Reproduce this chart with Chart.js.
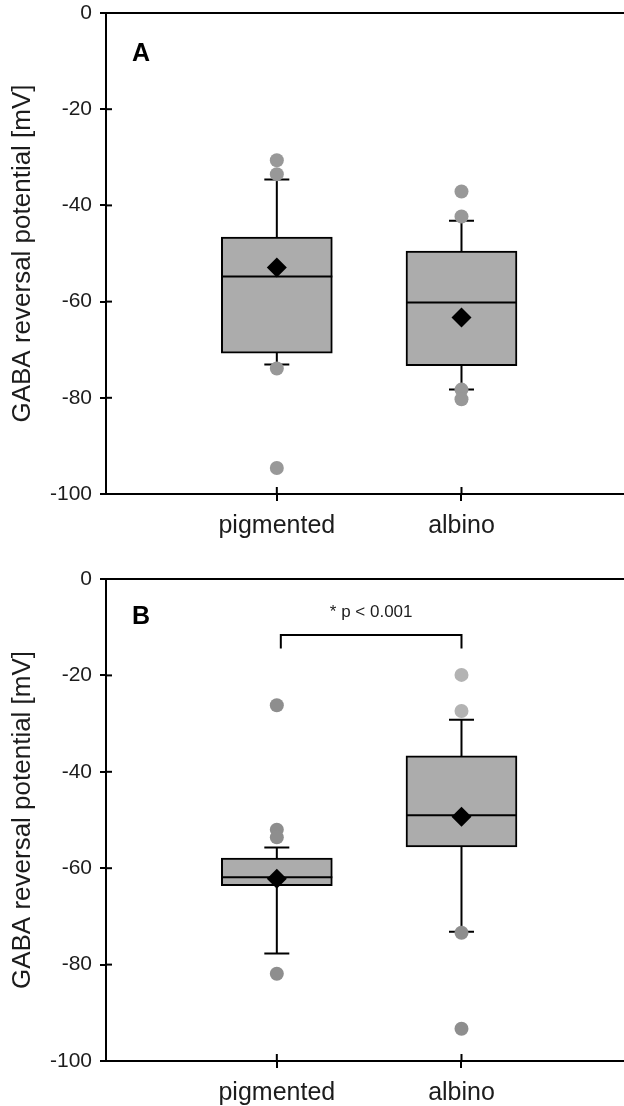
<!DOCTYPE html>
<html>
<head>
<meta charset="utf-8">
<script src="https://cdn.jsdelivr.net/npm/chart.js@4.4.0/dist/chart.umd.min.js"></script>
<style>
  body { margin: 0; background: #fff; }
  canvas { display: block; }
</style>
</head>
<body>
<canvas id="chartA" width="624" height="560"></canvas>
<canvas id="chartB" width="624" height="546"></canvas>
<script>
// categories + y ticks
const categories = ['pigmented', 'albino'];
const yTicks = [0, -20, -40, -60, -80, -100];
const yTitle = 'GABA reversal potential [mV]';

// Panel A
const aQ1 = [-70.7, -73.3];
const aMedian = [-54.8, -60.2];
const aQ3 = [-46.6, -49.5];
const aWhiskerLow = [-73.1, -78.3];
const aWhiskerHigh = [-34.6, -43.2];
const aMean = [-52.9, -63.3];
const aOutliersPigmented = [-30.6, -33.5, -73.9, -94.6];
const aOutliersAlbino = [-37.1, -42.3, -78.3, -80.3];

// Panel B
const bQ1 = [-63.6, -55.6];
const bMedian = [-61.9, -49.0];
const bQ3 = [-57.9, -36.7];
const bWhiskerLow = [-77.7, -73.2];
const bWhiskerHigh = [-55.7, -29.2];
const bMean = [-62.2, -49.3];
const bOutliersPigmented = [-26.2, -52.0, -53.6, -81.9];
const bOutliersAlbino = [-19.9, -27.4, -73.4, -93.3];
const bSignificance = '* p < 0.001';
const bBracketTop = -11.6;
const bBracketFoot = -14.4;

const FONT = "'Liberation Sans', Arial, sans-serif";
const INK = '#1c1c1c';

function panelPlugin(p) {
  return {
    id: 'panel' + p.letter,
    beforeDatasetsDraw(chart) {
      const { ctx, chartArea, scales: { x, y } } = chart;
      ctx.save();
      ctx.strokeStyle = '#000';
      ctx.lineWidth = 2;
      // top frame line
      ctx.beginPath();
      ctx.moveTo(chartArea.left, chartArea.top);
      ctx.lineTo(chart.width, chartArea.top);
      ctx.stroke();
      // inner halves of the tick marks
      yTicks.forEach(v => {
        const py = y.getPixelForValue(v);
        ctx.beginPath();
        ctx.moveTo(chartArea.left, py);
        ctx.lineTo(chartArea.left + 6, py);
        ctx.stroke();
      });
      categories.forEach((c, i) => {
        const px = x.getPixelForValue(i + 1);
        ctx.beginPath();
        ctx.moveTo(px, chartArea.bottom);
        ctx.lineTo(px, chartArea.bottom - 7);
        ctx.stroke();
      });
      // whiskers
      categories.forEach((c, i) => {
        const px = x.getPixelForValue(i + 1);
        [[p.q3[i], p.high[i]], [p.q1[i], p.low[i]]].forEach(([from, to]) => {
          const y0 = y.getPixelForValue(from);
          const y1 = y.getPixelForValue(to);
          ctx.beginPath();
          ctx.moveTo(px, y0);
          ctx.lineTo(px, y1);
          ctx.moveTo(px - 12.5, y1);
          ctx.lineTo(px + 12.5, y1);
          ctx.stroke();
        });
      });
      ctx.restore();
    },
    afterDatasetDraw(chart, args) {
      if (args.index !== 0) return;
      const { ctx, scales: { y } } = chart;
      ctx.save();
      ctx.strokeStyle = '#000';
      ctx.lineWidth = 2;
      args.meta.data.forEach((bar, i) => {
        const { x, width } = bar.getProps(['x', 'width'], true);
        const py = y.getPixelForValue(p.median[i]);
        ctx.beginPath();
        ctx.moveTo(x - width / 2, py);
        ctx.lineTo(x + width / 2, py);
        ctx.stroke();
      });
      ctx.restore();
    },
    afterDraw(chart) {
      const { ctx, chartArea, scales: { x, y } } = chart;
      ctx.save();
      ctx.fillStyle = '#000';
      ctx.font = 'bold 25px ' + FONT;
      ctx.textAlign = 'center';
      ctx.textBaseline = 'middle';
      ctx.fillText(p.letter, chartArea.left + 35, chartArea.top + p.letterDy);
      if (p.sig) {
        const x1 = x.getPixelForValue(1) + 4;
        const x2 = x.getPixelForValue(2);
        const yt = y.getPixelForValue(p.bracketTop);
        const yf = y.getPixelForValue(p.bracketFoot);
        ctx.strokeStyle = '#000';
        ctx.lineWidth = 2;
        ctx.beginPath();
        ctx.moveTo(x1, yf);
        ctx.lineTo(x1, yt);
        ctx.lineTo(x2, yt);
        ctx.lineTo(x2, yf);
        ctx.stroke();
        ctx.font = '17px ' + FONT;
        ctx.fillStyle = INK;
        ctx.fillText(p.sig, (x1 + x2) / 2, yt - 23);
      }
      ctx.restore();
    }
  };
}

function makeChart(id, p) {
  const boxData = categories.map((c, i) => ({ x: i + 1, y: [p.q1[i], p.q3[i]] }));
  const meanData = categories.map((c, i) => ({ x: i + 1, y: p.mean[i] }));
  const outlierData = [
    ...p.outPig.map(v => ({ x: 1, y: v })),
    ...p.outAlb.map(v => ({ x: 2, y: v }))
  ];
  return new Chart(document.getElementById(id), {
    type: 'scatter',
    data: {
      datasets: [
        {
          type: 'bar',
          data: boxData,
          backgroundColor: '#acacac',
          borderColor: '#000',
          borderWidth: 2,
          borderSkipped: false,
          barThickness: 111,
          order: 2
        },
        {
          data: outlierData,
          pointStyle: 'circle',
          pointRadius: 7,
          pointBackgroundColor: p.outColors,
          pointBorderWidth: 0,
          order: 1
        },
        {
          data: meanData,
          pointStyle: 'rectRot',
          pointRadius: 10,
          pointBackgroundColor: '#000',
          pointBorderWidth: 0,
          order: 0
        }
      ]
    },
    options: {
      responsive: false,
      animation: false,
      layout: { autoPadding: false, padding: { top: p.top, left: 0, right: 0, bottom: 0 } },
      plugins: { legend: { display: false }, tooltip: { enabled: false } },
      scales: {
        x: {
          type: 'linear',
          min: 0.075,
          max: 2.88,
          offset: false,
          afterBuildTicks: axis => { axis.ticks = categories.map((c, i) => ({ value: i + 1 })); },
          afterFit: axis => { axis.height = p.xHeight; },
          ticks: {
            callback: v => categories[v - 1] || '',
            font: { family: FONT, size: 25 },
            color: INK,
            padding: 10,
            maxRotation: 0
          },
          grid: { drawOnChartArea: false, offset: false, tickLength: 7, color: '#000', lineWidth: 2 },
          border: { display: true, color: '#000', width: 2 }
        },
        y: {
          type: 'linear',
          min: -100,
          max: 0,
          afterBuildTicks: axis => { axis.ticks = yTicks.map(v => ({ value: v })); },
          afterFit: axis => {
            axis.width = 106;
            axis.paddingTop = 0;
            axis.paddingBottom = 0;
          },
          ticks: {
            font: { family: FONT, size: 21 },
            color: INK,
            padding: 8
          },
          grid: { drawOnChartArea: false, tickLength: 6, color: '#000', lineWidth: 2 },
          border: { display: true, color: '#000', width: 2 },
          title: {
            display: true,
            text: yTitle,
            font: { family: FONT, size: 26 },
            color: INK,
            padding: { top: 7, bottom: 0 }
          }
        }
      }
    },
    plugins: [panelPlugin(p)]
  });
}

makeChart('chartA', {
  letter: 'A', letterDy: 41, top: 13, xHeight: 66,
  q1: aQ1, median: aMedian, q3: aQ3, low: aWhiskerLow, high: aWhiskerHigh, mean: aMean,
  outPig: aOutliersPigmented, outAlb: aOutliersAlbino,
  outColors: ['#989898', '#989898', '#989898', '#989898', '#989898', '#989898', '#989898', '#989898']
});

makeChart('chartB', {
  letter: 'B', letterDy: 38, top: 19, xHeight: 45,
  q1: bQ1, median: bMedian, q3: bQ3, low: bWhiskerLow, high: bWhiskerHigh, mean: bMean,
  outPig: bOutliersPigmented, outAlb: bOutliersAlbino,
  outColors: ['#8e8e8e', '#8e8e8e', '#8e8e8e', '#8e8e8e', '#b3b3b3', '#b3b3b3', '#8e8e8e', '#8e8e8e'],
  sig: bSignificance, bracketTop: bBracketTop, bracketFoot: bBracketFoot
});
</script>
</body>
</html>
